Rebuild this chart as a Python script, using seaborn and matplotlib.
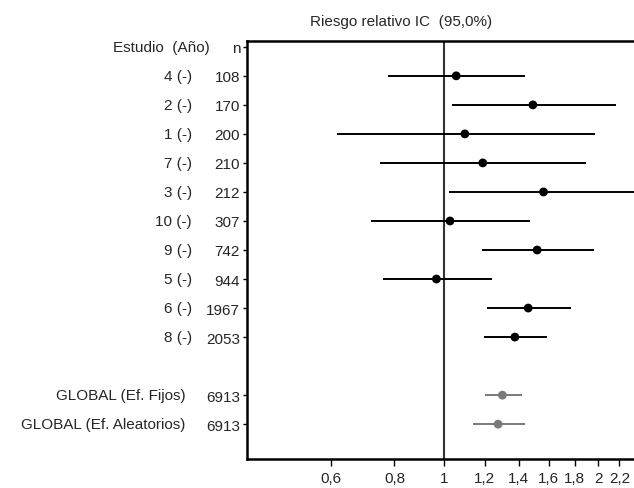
import numpy as np
import pandas as pd
import seaborn as sns
import matplotlib.pyplot as plt
from matplotlib.ticker import FixedLocator, NullLocator

# forest plot data
studies = ['4 (-)', '2 (-)', '1 (-)', '7 (-)', '3 (-)', '10 (-)', '9 (-)', '5 (-)', '6 (-)', '8 (-)',
           'GLOBAL (Ef. Fijos)', 'GLOBAL (Ef. Aleatorios)']
n_values = ['108', '170', '200', '210', '212', '307', '742', '944', '1967', '2053', '6913', '6913']
rr = [1.056, 1.491, 1.098, 1.19, 1.564, 1.027, 1.52, 0.966, 1.46, 1.375, 1.30, 1.275]
ci_low = [0.776, 1.038, 0.617, 0.751, 1.024, 0.721, 1.188, 0.760, 1.214, 1.196, 1.204, 1.141]
ci_high = [1.436, 2.167, 1.971, 1.893, 2.45, 1.475, 1.959, 1.240, 1.770, 1.588, 1.417, 1.436]
kind = ['estudio'] * 10 + ['global'] * 2
rows = list(range(1, 11)) + [12, 13]

xticks = [0.6, 0.8, 1, 1.2, 1.4, 1.6, 1.8, 2, 2.2]
xticklabels = ['0,6', '0,8', '1', '1,2', '1,4', '1,6', '1,8', '2', '2,2']

df = pd.DataFrame({'estudio': studies, 'n': n_values, 'rr': rr,
                   'lo': ci_low, 'hi': ci_high, 'tipo': kind, 'fila': rows})

FS = 11

sns.set_style('white')
plt.rcParams['font.family'] = ['Liberation Sans', 'DejaVu Sans']

fig = plt.figure(figsize=(6.34, 4.89), dpi=100)
ax = fig.add_axes([247 / 634, 1 - 460 / 489, 1 - 247 / 634, (460 - 42) / 489])

colors = {'estudio': 'black', 'global': '#7a7a7a'}
for tipo, sub in df.groupby('tipo'):
    ax.hlines(sub.fila, sub.lo, sub.hi, color=colors[tipo], lw=1.4, zorder=2)

ax.axvline(1, color='#333333', lw=1.5, zorder=1)

sns.scatterplot(data=df, x='rr', y='fila', hue='tipo', palette=colors, s=40,
                edgecolor='none', legend=False, ax=ax, zorder=3)

ax.set_xscale('log')
ax.set_xlim(0.412, 2.35)
ax.set_ylim(14.2, -0.2)
ax.xaxis.set_major_locator(FixedLocator(xticks))
ax.xaxis.set_minor_locator(NullLocator())
ax.set_xticklabels(xticklabels, fontsize=FS)

ax.set_yticks([0] + rows)
ax.set_yticklabels(['n'] + n_values, fontsize=FS)
ax.tick_params(axis='y', length=3, width=1, color='black', left=True, direction='out', pad=2)
ax.tick_params(axis='x', length=5, width=1, color='black', bottom=True, direction='out', pad=4)
ax.set_xlabel('')
ax.set_ylabel('')

# left column with study names
trans = ax.get_yaxis_transform()
ax.text(-0.0956, 0, 'Estudio  (Año)', transform=trans, ha='right', va='center', fontsize=FS)
for _, r in df.iterrows():
    xpos = -0.142 if r.tipo == 'estudio' else -0.159
    ax.text(xpos, r.fila, r.estudio, transform=trans, ha='right', va='center', fontsize=FS)

for side in ('left', 'top', 'bottom'):
    ax.spines[side].set_visible(True)
    ax.spines[side].set_color('black')
    ax.spines[side].set_linewidth(1.8)
ax.spines['right'].set_visible(False)

fig.text(401 / 634, 1 - 22 / 489, 'Riesgo relativo IC  (95,0%)', ha='center', va='center', fontsize=FS)

fig.savefig('out.png', dpi=100)
